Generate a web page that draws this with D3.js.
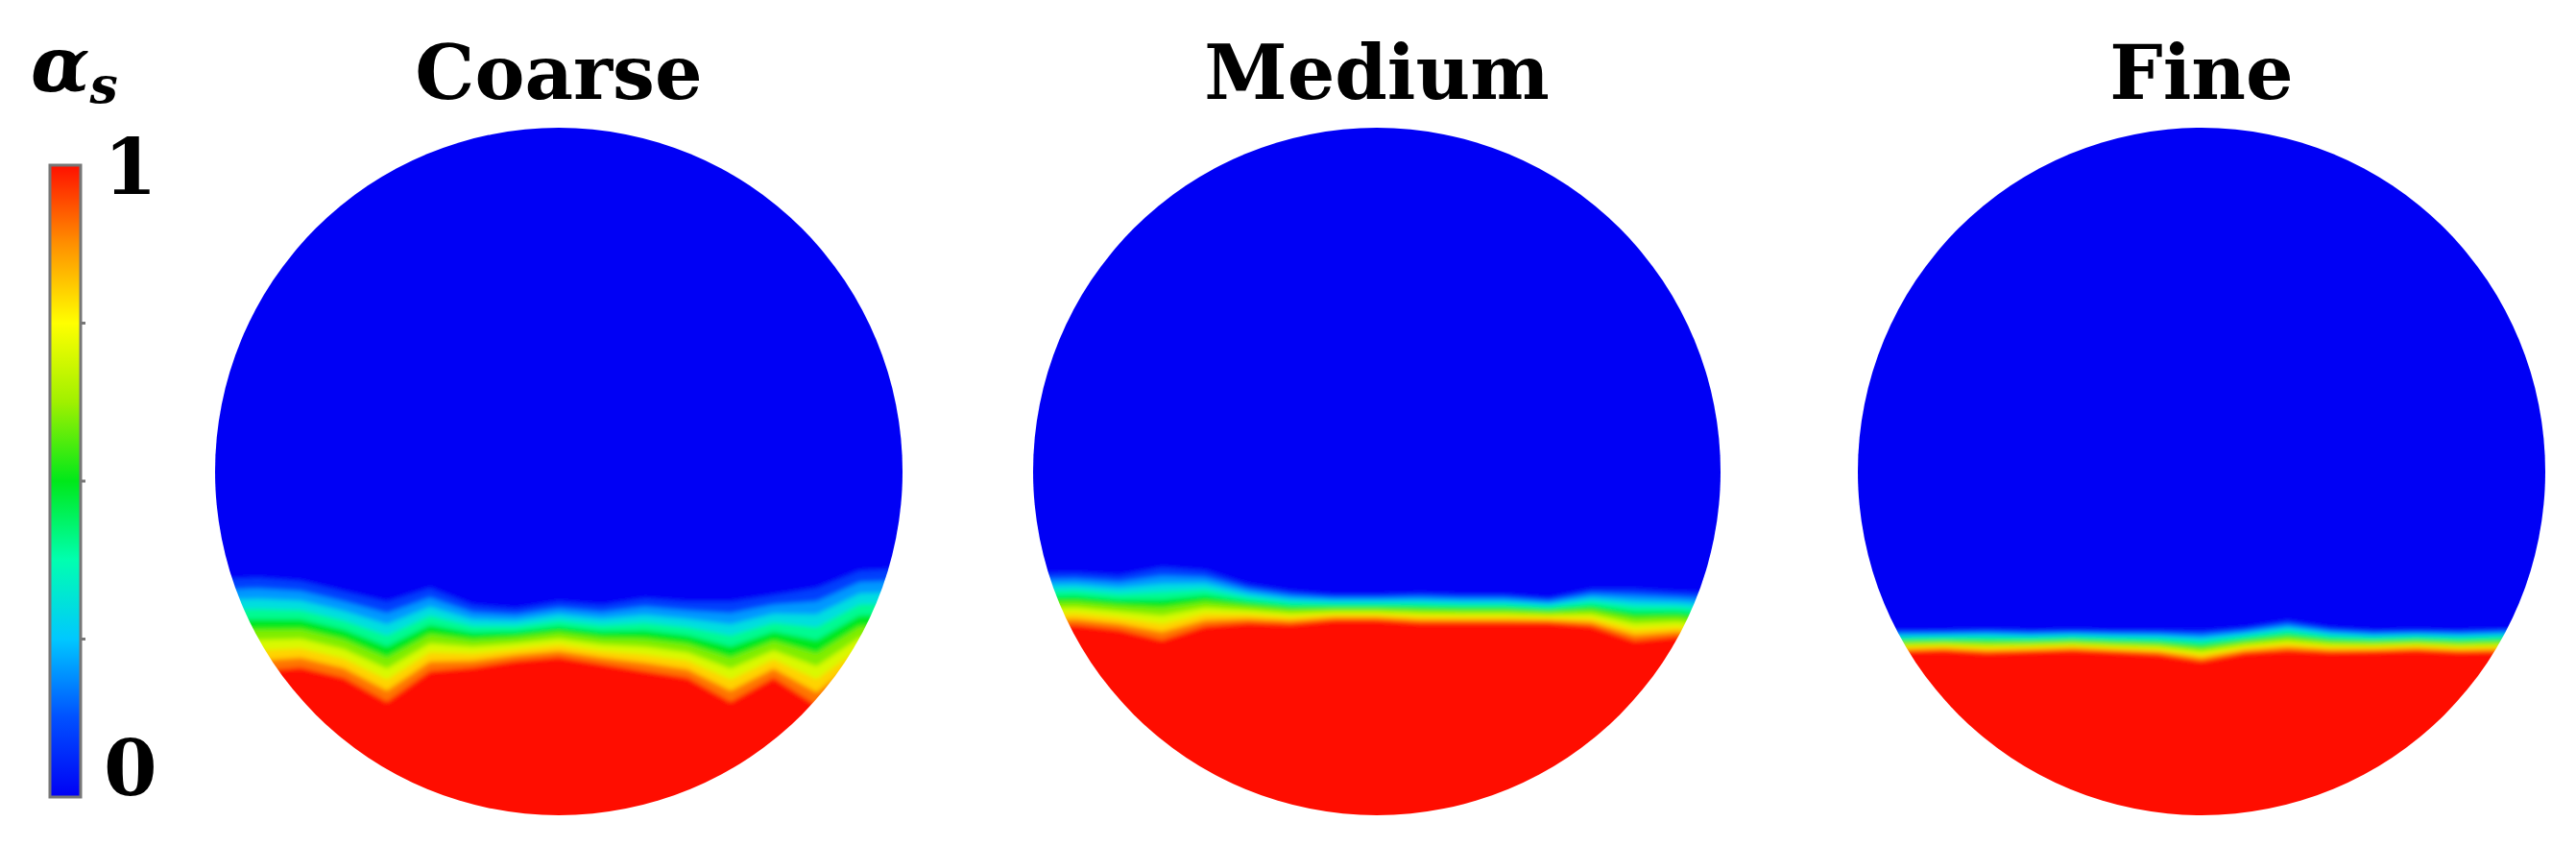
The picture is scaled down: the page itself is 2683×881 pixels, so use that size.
<!DOCTYPE html>
<html>
<head>
	<title>Volume fraction, three meshes</title>
	<script src="https://cdn.jsdelivr.net/npm/d3@7/dist/d3.min.js" charset="utf-8"></script>
	<style>
		body { margin: 0; background: #fff; }
		text { font-family: "DejaVu Serif", "Liberation Serif", serif; font-weight: bold; }
	</style>
</head>
<body>
	<svg id="chart" width="2683" height="881"></svg>

	<script type="text/javascript">
		// mesh names
		var meshes = ["Coarse", "Medium", "Fine"];
		// interface profiles, sampled at 17 points across the pipe (u = -1..1),
		// as fraction of the diameter from the top. top = start of cyan, bot = full red
		var coarseTop = [0.66,0.655,0.66,0.675,0.69,0.67,0.695,0.70,0.69,0.695,0.685,0.69,0.69,0.68,0.67,0.645,0.64];
		var coarseBot = [0.79,0.79,0.785,0.80,0.835,0.79,0.785,0.775,0.77,0.78,0.79,0.80,0.835,0.80,0.84,0.79,0.79];
		var mediumTop = [0.65,0.648,0.652,0.64,0.645,0.665,0.675,0.68,0.68,0.678,0.68,0.68,0.685,0.672,0.672,0.676,0.68];
		var mediumBot = [0.725,0.723,0.73,0.745,0.725,0.72,0.722,0.716,0.716,0.72,0.72,0.72,0.72,0.725,0.746,0.74,0.76];
		var fineTop = [0.735,0.732,0.732,0.73,0.732,0.731,0.732,0.732,0.733,0.728,0.718,0.728,0.732,0.731,0.732,0.73,0.732];
		var fineBot = [0.764,0.762,0.76,0.764,0.762,0.76,0.763,0.766,0.776,0.764,0.76,0.763,0.762,0.76,0.763,0.762,0.762];
		var samples = [-1,-0.875,-0.75,-0.625,-0.5,-0.375,-0.25,-0.125,0,0.125,0.25,0.375,0.5,0.625,0.75,0.875,1];
		var levels = [0.1,0.2,0.3,0.4,0.5,0.6,0.7,0.8,0.9,1.0];
		var barTicks = [0, 0.25, 0.5, 0.75, 1];
		var barLabels = ["0", "1"];
		// jet-like colour map
		var jetStops = [0, 0.125, 0.25, 0.375, 0.5, 0.625, 0.75, 0.875, 1];
		var jetColors = ["#0000f5","#0050ff","#00c8ff","#00ffb0","#00e81a","#a0f000","#ffff00","#ff9000","#ff1000"];

		var profiles = [[coarseTop, coarseBot], [mediumTop, mediumBot], [fineTop, fineBot]];
		var centers = [582, 1434, 2293];
		var cy = 491, R = 358;

		var jet = d3.scaleLinear().domain(jetStops).range(jetColors);
		var svg = d3.select('#chart');
		var defs = svg.append('defs');

		defs.append('filter').attr('id', 'blur')
			.attr('x', '-10%').attr('y', '-10%').attr('width', '120%').attr('height', '120%')
			.append('feGaussianBlur').attr('stdDeviation', 2.5);

		meshes.forEach(function(name, i) {
			var cx = centers[i];
			var x = d3.scaleLinear().domain([-1, 1]).range([cx - R, cx + R]);
			var y = d3.scaleLinear().domain([0, 1]).range([cy - R, cy + R]);
			var top = profiles[i][0], bot = profiles[i][1];

			defs.append('clipPath').attr('id', 'clip' + i)
				.append('circle').attr('cx', cx).attr('cy', cy).attr('r', R);

			var g = svg.append('g').attr('clip-path', 'url(#clip' + i + ')');
			var inner = g.append('g').attr('filter', 'url(#blur)');

			inner.append('rect')
				.attr('x', cx - R - 20).attr('y', cy - R - 20)
				.attr('width', 2 * R + 40).attr('height', 2 * R + 40)
				.attr('fill', jet(0));

			levels.forEach(function(v) {
				var t = (v - levels[0]) / (1 - levels[0]);
				var area = d3.area()
					.x(function(d) { return x(d); })
					.y0(cy + R + 20)
					.y1(function(d, k) { return y(top[k] + (bot[k] - top[k]) * t); });
				var pts = samples.slice();
				pts[0] = -1.1; pts[pts.length - 1] = 1.1;
				inner.append('path').datum(pts)
					.attr('d', area)
					.attr('fill', jet(v));
			});

			svg.append('text')
				.attr('x', cx).attr('y', 103)
				.attr('text-anchor', 'middle')
				.attr('font-size', 78)
				.text(name);
		});

		// colour bar
		var barX = 52, barW = 32;
		var by = d3.scaleLinear().domain([0, 1]).range([830, 172]);
		var grad = defs.append('linearGradient').attr('id', 'jetgrad')
			.attr('x1', 0).attr('y1', 1).attr('x2', 0).attr('y2', 0);
		jetStops.forEach(function(s, k) {
			grad.append('stop').attr('offset', s).attr('stop-color', jetColors[k]);
		});
		svg.append('rect')
			.attr('x', barX).attr('y', by(1))
			.attr('width', barW).attr('height', by(0) - by(1))
			.attr('fill', 'url(#jetgrad)')
			.attr('stroke', '#777').attr('stroke-width', 3);
		svg.selectAll('.btick').data(barTicks.slice(1, -1)).enter().append('line')
			.attr('x1', barX + barW).attr('x2', barX + barW + 5)
			.attr('y1', function(d) { return by(d); }).attr('y2', function(d) { return by(d); })
			.attr('stroke', '#777').attr('stroke-width', 3);
		svg.append('text').attr('x', 108).attr('y', 828).attr('font-size', 80).text(barLabels[0]);
		svg.append('text').attr('x', 108).attr('y', 202).attr('font-size', 80).text(barLabels[1]);

		var lab = svg.append('text').attr('x', 32).attr('y', 95).attr('font-size', 80)
			.attr('font-style', 'italic');
		lab.append('tspan').text('α');
		lab.append('tspan').attr('font-size', 52).attr('dy', 12).text('s');
	</script>
</body>
</html>
